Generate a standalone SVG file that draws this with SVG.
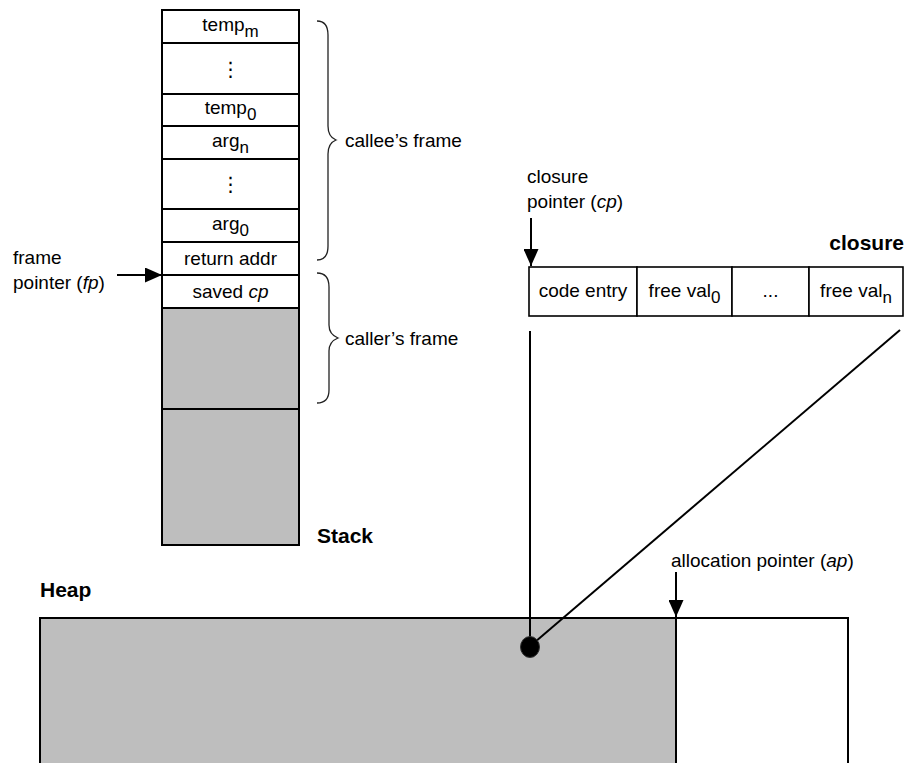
<svg xmlns="http://www.w3.org/2000/svg" width="909" height="763" viewBox="0 0 909 763">
<style>
text{font-family:"Liberation Sans",Arial,Helvetica,sans-serif;font-size:19px;fill:#000}
.c{text-anchor:middle}
.b{font-weight:bold;font-size:21px}
.sub{font-size:17px}
.it{font-style:italic}
.cell{fill:#fff;stroke:#000;stroke-width:2}
.gray{fill:#bebebe;stroke:#000;stroke-width:2}
.box{fill:#fff;stroke:#000;stroke-width:1.6}
.brace{fill:none;stroke:#222;stroke-width:1.3}
.conn{fill:none;stroke:#000;stroke-width:2}
.vd{font-family:"DejaVu Sans",sans-serif;font-size:20px}
</style>
<defs>
<marker id="ah" viewBox="0 0 17 15" refX="17" refY="7.5" markerWidth="17" markerHeight="15" markerUnits="userSpaceOnUse" orient="auto">
<path d="M0,0 L17,7.5 L0,15 z" fill="#000"/>
</marker>
</defs>

<g id="stack">
<g id="s-tempm"><rect class="cell" x="162" y="10" width="137" height="33"/><text class="c" x="230.5" y="31">temp<tspan class="sub" dy="6">m</tspan></text></g>
<g id="s-dots1"><rect class="cell" x="162" y="43" width="137" height="51"/><text class="c vd" x="230.5" y="76">⋮</text></g>
<g id="s-temp0"><rect class="cell" x="162" y="94" width="137" height="32"/><text class="c" x="230.5" y="114">temp<tspan class="sub" dy="6">0</tspan></text></g>
<g id="s-argn"><rect class="cell" x="162" y="126" width="137" height="33"/><text class="c" x="230.5" y="147">arg<tspan class="sub" dy="6">n</tspan></text></g>
<g id="s-dots2"><rect class="cell" x="162" y="159" width="137" height="50"/><text class="c vd" x="230.5" y="191">⋮</text></g>
<g id="s-arg0"><rect class="cell" x="162" y="209" width="137" height="33"/><text class="c" x="230.5" y="230">arg<tspan class="sub" dy="6">0</tspan></text></g>
<g id="s-ret"><rect class="cell" x="162" y="242" width="137" height="33"/><text class="c" x="230.5" y="265">return addr</text></g>
<g id="s-savedcp"><rect class="cell" x="162" y="275" width="137" height="33"/><text class="c" x="230.5" y="298">saved <tspan class="it">cp</tspan></text></g>
<g id="s-gray1"><rect class="gray" x="162" y="308" width="137" height="101"/></g>
<g id="s-gray2"><rect class="gray" x="162" y="409" width="137" height="136"/></g>
</g>

<g id="callee-brace">
<path class="brace" d="M317,21 C325,21 328,26 328,35 L328,126 C328,134 331,138 336,140 C331,142 328,146 328,154 L328,246 C328,255 325,260 317,260"/>
<text x="345" y="147">callee’s frame</text>
</g>
<g id="caller-brace">
<path class="brace" d="M317,273 C325,273 329,278 329,287 L329,325 C329,332 333,336 338,338 C333,340 329,344 329,351 L329,390 C329,399 325,403 317,403"/>
<text x="345" y="345">caller’s frame</text>
</g>
<g id="stack-label"><text class="b" x="317" y="543">Stack</text></g>

<g id="fp-label"><text x="13" y="264">frame</text><text x="13" y="289">pointer (<tspan class="it">fp</tspan>)</text></g>

<g id="cp-label"><text x="527" y="183">closure</text><text x="527" y="208">pointer (<tspan class="it">cp</tspan>)</text></g>
<g id="closure-label"><text class="b" x="904" y="250" text-anchor="end">closure</text></g>

<g id="closure">
<g id="c-code"><rect class="box" x="529" y="267" width="108" height="49"/><text class="c" x="583" y="297">code entry</text></g>
<g id="c-free0"><rect class="box" x="637" y="267" width="95" height="49"/><text class="c" x="684.5" y="297">free val<tspan class="sub" dy="6">0</tspan></text></g>
<g id="c-dots"><rect class="box" x="732" y="267" width="77" height="49"/><text class="c" x="770.5" y="297">...</text></g>
<g id="c-freen"><rect class="box" x="809" y="267" width="94" height="49"/><text class="c" x="856" y="297">free val<tspan class="sub" dy="6">n</tspan></text></g>
</g>

<g id="heap-label"><text class="b" x="40" y="597">Heap</text></g>
<g id="ap-label"><text x="671" y="567">allocation pointer (<tspan class="it">ap</tspan>)</text></g>

<g id="heap">
<rect x="40" y="618" width="808" height="200" fill="#fff" stroke="#000" stroke-width="2"/>
<rect x="40" y="618" width="636" height="200" fill="#bebebe" stroke="#000" stroke-width="2"/>
</g>

<g id="connectors">
<line class="conn" x1="117" y1="275" x2="162" y2="275" marker-end="url(#ah)"/>
<line class="conn" x1="531" y1="218" x2="531" y2="266" marker-end="url(#ah)"/>
<line class="conn" x1="676" y1="572" x2="676" y2="617" marker-end="url(#ah)"/>
<line class="conn" x1="530" y1="331" x2="530" y2="640"/>
<line class="conn" x1="900" y1="330" x2="535" y2="642" stroke-width="1.7"/>
<ellipse id="dot" cx="530" cy="647" rx="9.5" ry="10.5" fill="#000" stroke="#333" stroke-width="1"/>
</g>
</svg>
